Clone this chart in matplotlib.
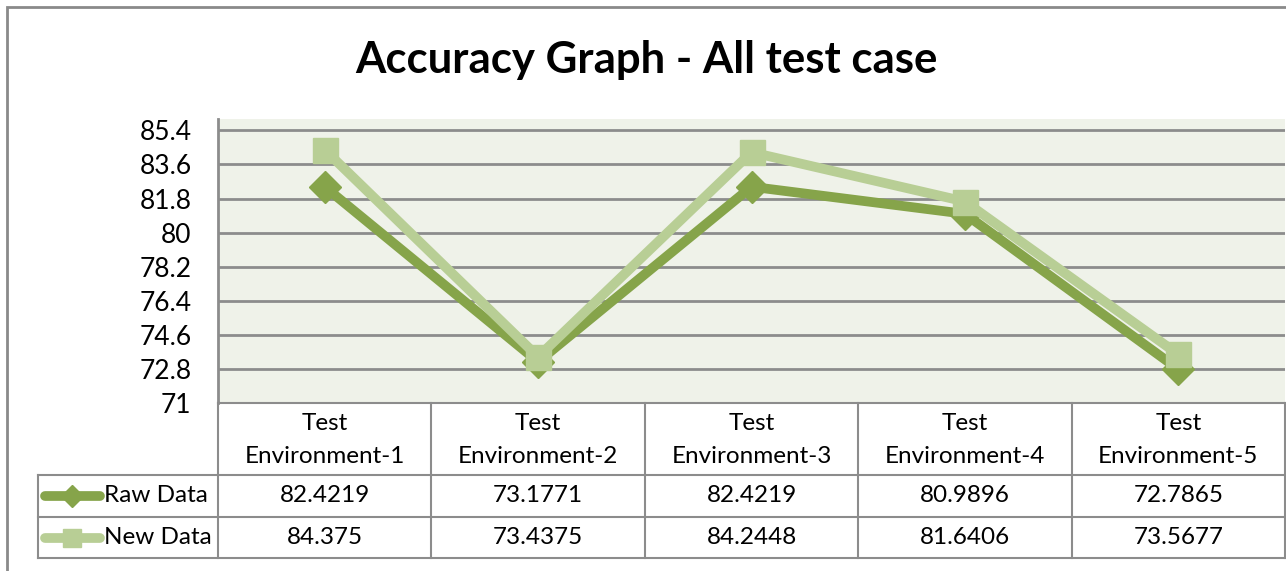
import matplotlib
matplotlib.use("Agg")
import matplotlib.pyplot as plt
import matplotlib.transforms as mtransforms
from matplotlib.patches import Rectangle

plt.rcParams['font.family'] = ['Lato', 'DejaVu Sans']

categories = ["Test\nEnvironment-1", "Test\nEnvironment-2", "Test\nEnvironment-3",
              "Test\nEnvironment-4", "Test\nEnvironment-5"]
raw_data = [82.4219, 73.1771, 82.4219, 80.9896, 72.7865]
new_data = [84.375, 73.4375, 84.2448, 81.6406, 73.5677]
raw_labels = ["82.4219", "73.1771", "82.4219", "80.9896", "72.7865"]
new_labels = ["84.375", "73.4375", "84.2448", "81.6406", "73.5677"]
series_names = ["Raw Data", "New Data"]
yticks = [71, 72.8, 74.6, 76.4, 78.2, 80, 81.8, 83.6, 85.4]

raw_color = '#86A44A'
new_color = '#B8CE95'
grid_color = '#8C8C8C'
W, H = 1286, 571

fig = plt.figure(figsize=(W / 100, H / 100), dpi=100)

def fx(px):
    return px / W

def fy(py):
    return 1 - py / H

# outer chart border
fig.patches.append(Rectangle((fx(7), fy(600)), fx(1300), fy(7) - fy(600),
                             transform=fig.transFigure, fill=False,
                             edgecolor='#8A8A8A', linewidth=2))

fig.text(0.503, fy(60), "Accuracy Graph - All test case", ha='center', va='center',
         fontsize=31.5, fontweight='bold')

ax = fig.add_axes([fx(218), fy(403), fx(1285 - 218), fy(119) - fy(403)])
ax.set_facecolor('#EFF2E9')
x = list(range(len(categories)))
ax.plot(x, raw_data, color=raw_color, linewidth=7, marker='D', markersize=16,
        solid_capstyle='round', zorder=3)
ax.plot(x, new_data, color=new_color, linewidth=7, marker='s', markersize=18,
        solid_capstyle='round', zorder=4)
ax.set_xlim(-0.5, len(categories) - 0.5)
ax.set_ylim(71, 86.0)
ax.set_yticks(yticks)
ax.set_yticklabels([f"{t:g}" for t in yticks], fontsize=19)
ax.set_xticks([])
ax.tick_params(axis='y', length=0, pad=19)
ax.grid(axis='y', color=grid_color, linewidth=2)
for s in ['top', 'right', 'bottom']:
    ax.spines[s].set_visible(False)
ax.spines['left'].set_color(grid_color)
ax.spines['left'].set_linewidth(2)

# data table below the plot
tr = mtransforms.blended_transform_factory(ax.transData, fig.transFigure)
ftr = fig.transFigure
lkw = dict(color=grid_color, linewidth=1.5, clip_on=False)
n = len(categories)
for i in range(n + 1):
    fig.lines.append(plt.Line2D([i - 0.5, i - 0.5], [fy(403), fy(558)], transform=tr, **lkw))
fig.lines.append(plt.Line2D([fx(38), fx(38)], [fy(475), fy(558)], transform=ftr, **lkw))
fig.lines.append(plt.Line2D([fx(218), fx(1285)], [fy(403), fy(403)], transform=ftr, **lkw))
for yy in [475, 517, 558]:
    fig.lines.append(plt.Line2D([fx(38), fx(1285)], [fy(yy), fy(yy)], transform=ftr, **lkw))

for i, c in enumerate(categories):
    fig.text(i, fy(440), c, transform=tr, ha='center', va='center', fontsize=17.5,
             linespacing=1.65)
    fig.text(i, fy(496), raw_labels[i], transform=tr, ha='center', va='center', fontsize=17.5)
    fig.text(i, fy(538), new_labels[i], transform=tr, ha='center', va='center', fontsize=17.5)

for name, color, mk, ms, yy in [(series_names[0], raw_color, 'D', 11, 496),
                                (series_names[1], new_color, 's', 13, 538)]:
    fig.lines.append(plt.Line2D([fx(45), fx(100)], [fy(yy), fy(yy)], transform=ftr,
                                color=color, linewidth=7, solid_capstyle='round'))
    fig.lines.append(plt.Line2D([fx(72)], [fy(yy)], transform=ftr, color=color,
                                marker=mk, markersize=ms, linestyle='none'))
    fig.text(fx(104), fy(yy), name, ha='left', va='center', fontsize=17.5)

fig.savefig('out.png', dpi=100)
